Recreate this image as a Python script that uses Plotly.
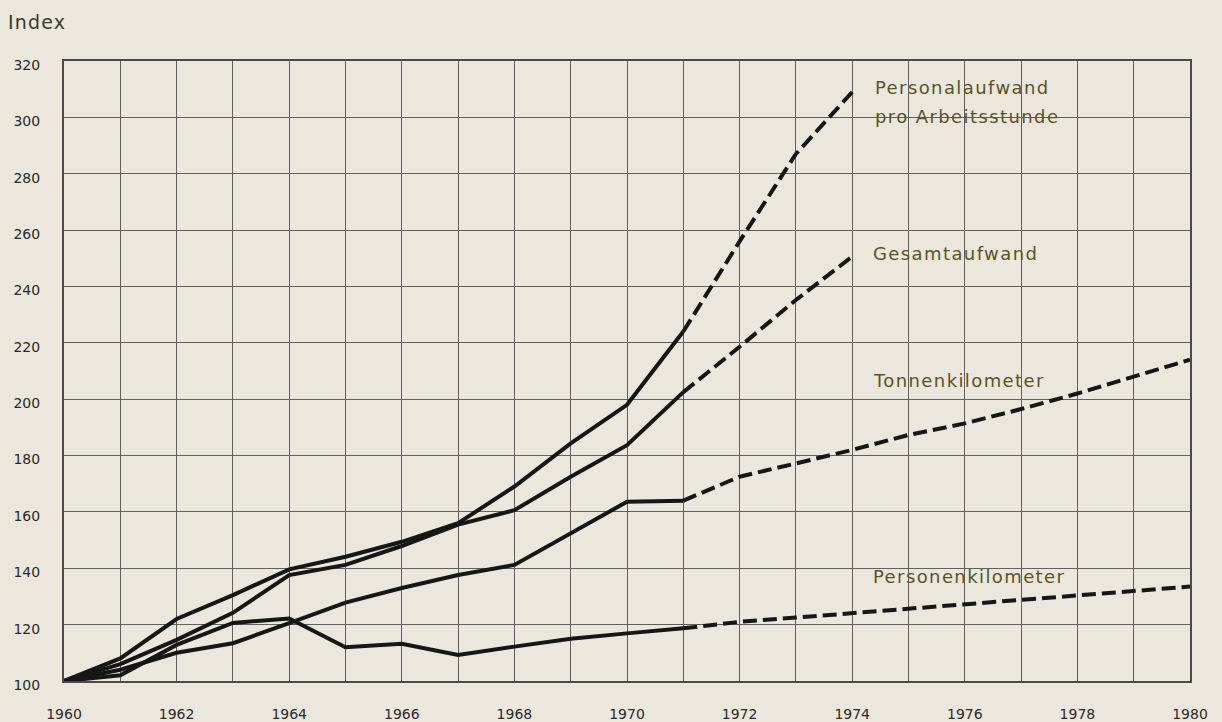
import plotly.graph_objects as go

years_solid = list(range(1960, 1972))
years_proj_short = [1971, 1972, 1973, 1974]
years_proj_long = list(range(1971, 1981))

personal_solid = [100, 108, 122, 130.5, 139.6, 144.1, 149.4, 156, 169, 184.3, 198, 224]
personal_proj = [224, 256, 287, 309]

gesamt_solid = [100, 106, 114.6, 124.2, 137.6, 141.2, 147.9, 155.5, 160.6, 172.5, 183.7, 202.5]
gesamt_proj = [202.5, 218.6, 235.2, 250.6]

tonnen_solid = [100, 104, 110, 113.4, 120.5, 127.8, 133, 137.6, 141.2, 152.4, 163.6, 164]
tonnen_proj = [164, 172.5, 177.2, 182, 187.3, 191.4, 196.5, 202, 208, 214]

personen_solid = [100, 102, 112.8, 120.6, 122.2, 112, 113.2, 109.2, 112.2, 115, 116.9, 118.7]
personen_proj = [118.7, 121, 122.5, 124.1, 125.6, 127.2, 128.7, 130.2, 131.8, 133.5]

label_texts = ["Personalaufwand", "pro Arbeitsstunde", "Gesamtaufwand", "Tonnenkilometer", "Personenkilometer"]
label_x = [1974.37, 1974.37, 1974.33, 1974.33, 1974.33]
label_y = [310.6, 300.3, 251.7, 206.6, 137.1]

y_ticks = list(range(100, 321, 20))
x_years = list(range(1960, 1981))
x_ticktext = [str(y) if y % 2 == 0 else "" for y in x_years]

BG = "#ebe7dc"
LINE = "#161616"
LABEL = "#5a5424"
FONT = "DejaVu Sans, Liberation Sans, sans-serif"

fig = go.Figure()

def add(x, y, dash):
    fig.add_trace(go.Scatter(
        x=x, y=y, mode="lines",
        line=dict(color=LINE, width=4, dash=dash),
        showlegend=False, hoverinfo="skip"))

for sx, sy in [(years_solid, personen_solid), (years_solid, tonnen_solid),
               (years_solid, gesamt_solid), (years_solid, personal_solid)]:
    add(sx, sy, "solid")
for px_, py_ in [(years_proj_long, personen_proj), (years_proj_long, tonnen_proj),
                 (years_proj_short, gesamt_proj), (years_proj_short, personal_proj)]:
    add(px_, py_, "14px,6px")

for t, lx, ly in zip(label_texts, label_x, label_y):
    fig.add_annotation(x=lx, y=ly, text='<span style="letter-spacing:1.4px">' + t + '</span>',
                       showarrow=False, xanchor="left",
                       yanchor="middle", align="left",
                       font=dict(family=FONT, size=18, color=LABEL))

fig.add_annotation(xref="paper", yref="paper", x=-0.0513, y=1.0629,
                   text='<span style="letter-spacing:1.2px">Index</span>',
                   showarrow=False, xanchor="left", yanchor="middle",
                   font=dict(family=FONT, size=19, color="#3a3a2a"))

fig.update_layout(
    width=1222, height=722,
    paper_bgcolor=BG, plot_bgcolor=BG,
    margin=dict(l=64, r=32, t=61, b=41, autoexpand=False),
    font=dict(family=FONT, size=14, color="#2a2a2a"),
    xaxis=dict(range=[1960, 1980], tickvals=x_years, ticktext=x_ticktext,
               showgrid=True, gridcolor="#606060", gridwidth=1,
               ticks="", ticklabelstandoff=19, automargin=False,
               showline=True, linecolor="#4a4a4a", linewidth=2, mirror=True,
               zeroline=False, tickfont=dict(size=14)),
    yaxis=dict(range=[100, 320], tickvals=y_ticks,
               showgrid=True, gridcolor="#606060", gridwidth=1,
               ticks="", ticklabelstandoff=19, ticklabelshift=4, automargin=False,
               showline=True, linecolor="#4a4a4a", linewidth=2, mirror=True,
               zeroline=False, tickfont=dict(size=14)),
)

fig.write_html("out.html", config={"displayModeBar": False},
               post_script="document.body.style.margin='0';document.body.style.background='" + BG + "';")
